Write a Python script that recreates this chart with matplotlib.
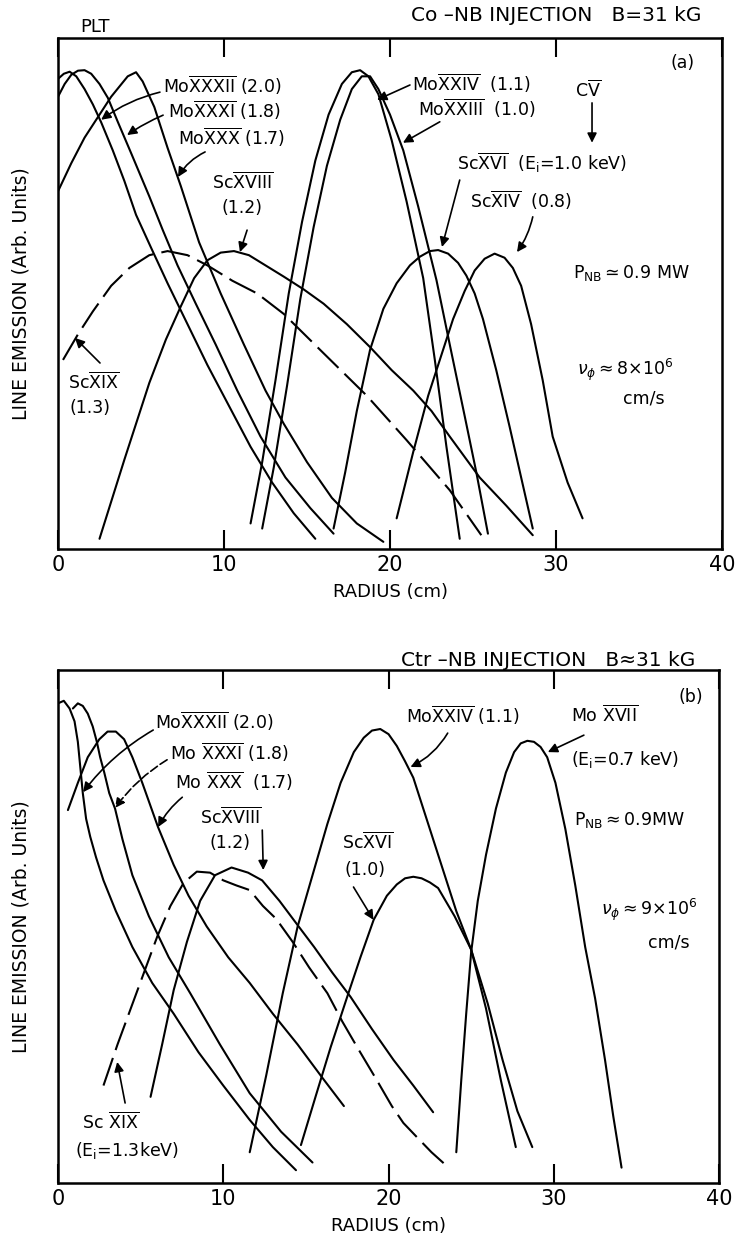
import matplotlib
matplotlib.use('Agg')
import matplotlib.pyplot as plt

# ---- panel (a): Co-NB injection, radius (cm) vs line emission (arb. units)
a_mo32_r = [0.0, 0.35, 0.7, 1.1, 1.6, 2.1, 2.6, 3.3, 4.0, 4.7, 5.6, 6.6, 7.8, 9.0, 10.3, 11.6, 12.9, 14.2, 15.5]
a_mo32_v = [0.92, 0.93, 0.934, 0.925, 0.9, 0.87, 0.835, 0.78, 0.72, 0.654, 0.59, 0.52, 0.44, 0.36, 0.28, 0.2, 0.13, 0.07, 0.02]
a_mo31_r = [0.0, 0.4, 0.8, 1.2, 1.6, 2.0, 2.5, 3.0, 3.6, 4.4, 5.5, 6.3, 7.2, 8.3, 9.5, 10.8, 12.2, 13.7, 15.2, 16.6]
a_mo31_v = [0.885, 0.91, 0.928, 0.936, 0.937, 0.93, 0.91, 0.883, 0.836, 0.775, 0.69, 0.625, 0.555, 0.48, 0.4, 0.31, 0.22, 0.14, 0.08, 0.03]
a_mo30_r = [0.0, 0.8, 1.6, 2.5, 3.2, 3.7, 4.2, 4.7, 5.1, 5.8, 6.6, 7.4, 8.5, 9.8, 11.2, 12.5, 13.6, 15.0, 16.5, 18.0, 19.6]
a_mo30_v = [0.70, 0.755, 0.805, 0.85, 0.885, 0.905, 0.925, 0.933, 0.915, 0.865, 0.785, 0.71, 0.6, 0.5, 0.4, 0.31, 0.245, 0.17, 0.1, 0.05, 0.014]
a_sc19_r = [0.3, 1.2, 2.1, 3.2, 4.3, 5.5, 6.6, 7.8, 9.0, 10.5, 12.0, 13.6, 16.0, 18.6, 21.0, 23.6, 25.5]
a_sc19_v = [0.37, 0.42, 0.465, 0.515, 0.55, 0.575, 0.583, 0.575, 0.555, 0.525, 0.5, 0.46, 0.383, 0.3, 0.213, 0.115, 0.027]
a_sc18_r = [2.5, 4.0, 5.5, 6.5, 7.4, 8.2, 9.0, 9.8, 10.6, 11.5, 12.5, 13.6, 14.8, 16.0, 17.4, 18.8, 20.1, 21.4, 22.5, 23.6, 25.4, 27.0, 28.6]
a_sc18_v = [0.02, 0.175, 0.325, 0.41, 0.475, 0.53, 0.565, 0.58, 0.583, 0.575, 0.555, 0.533, 0.508, 0.48, 0.44, 0.395, 0.35, 0.31, 0.27, 0.22, 0.14, 0.085, 0.027]
a_mo24_r = [11.6, 12.3, 13.1, 13.9, 14.7, 15.5, 16.3, 17.1, 17.7, 18.2, 18.7, 19.3, 20.1, 21.0, 22.0, 22.7, 23.4, 24.2]
a_mo24_v = [0.05, 0.17, 0.33, 0.5, 0.64, 0.76, 0.85, 0.91, 0.933, 0.937, 0.925, 0.89, 0.8, 0.68, 0.53, 0.37, 0.2, 0.02]
a_mo23_r = [12.3, 13.0, 13.8, 14.6, 15.4, 16.2, 17.0, 17.7, 18.3, 18.8, 19.3, 20.0, 20.8, 21.7, 22.8, 23.6, 24.5, 25.2, 25.9]
a_mo23_v = [0.04, 0.16, 0.32, 0.49, 0.63, 0.75, 0.84, 0.9, 0.925, 0.925, 0.9, 0.85, 0.78, 0.67, 0.526, 0.4, 0.26, 0.15, 0.03]
a_sc16_r = [16.6, 17.3, 18.0, 18.8, 19.6, 20.4, 21.2, 21.8, 22.4, 22.9, 23.5, 24.1, 24.6, 25.1, 25.6, 26.4, 27.2, 27.9, 28.6]
a_sc16_v = [0.04, 0.15, 0.27, 0.39, 0.47, 0.52, 0.555, 0.572, 0.583, 0.585, 0.578, 0.56, 0.535, 0.5, 0.45, 0.35, 0.24, 0.14, 0.04]
a_sc14_r = [20.4, 21.4, 22.3, 23.0, 23.8, 24.5, 25.1, 25.7, 26.3, 26.9, 27.4, 27.9, 28.5, 29.2, 29.8, 30.7, 31.6]
a_sc14_v = [0.06, 0.19, 0.3, 0.37, 0.45, 0.505, 0.545, 0.568, 0.578, 0.57, 0.55, 0.515, 0.44, 0.33, 0.22, 0.13, 0.06]

# ---- panel (b): Ctr-NB injection
b_mo32_r = [0.0, 0.35, 0.7, 1.0, 1.2, 1.35, 1.5, 1.7, 1.95, 2.3, 2.75, 3.5, 4.5, 5.7, 7.0, 8.5, 10.0, 11.6, 13.0, 14.4]
b_mo32_v = [0.935, 0.94, 0.925, 0.9, 0.86, 0.81, 0.76, 0.71, 0.675, 0.635, 0.59, 0.53, 0.46, 0.39, 0.33, 0.255, 0.19, 0.123, 0.07, 0.025]
b_mo31_r = [0.9, 1.2, 1.5, 1.8, 2.1, 2.35, 2.55, 2.8, 3.1, 3.45, 3.9, 4.5, 5.5, 6.7, 8.0, 9.8, 11.6, 13.5, 15.4]
b_mo31_v = [0.925, 0.935, 0.93, 0.915, 0.89, 0.86, 0.83, 0.8, 0.76, 0.73, 0.67, 0.6, 0.52, 0.44, 0.37, 0.27, 0.175, 0.1, 0.04]
b_mo30_r = [0.6, 1.2, 1.8, 2.5, 3.0, 3.5, 4.0, 4.5, 5.1, 6.05, 7.0, 7.9, 9.0, 10.3, 11.6, 13.0, 14.5, 16.0, 17.3]
b_mo30_v = [0.727, 0.78, 0.83, 0.865, 0.88, 0.88, 0.865, 0.83, 0.78, 0.694, 0.62, 0.56, 0.5, 0.44, 0.39, 0.33, 0.27, 0.205, 0.15]
b_sc19_r = [2.75, 3.6, 4.4, 5.2, 6.0, 6.8, 7.6, 8.4, 9.2, 10.0, 10.8, 11.6, 12.4, 13.2, 14.2, 15.2, 16.3, 17.2, 18.1, 19.3, 20.2, 20.9, 21.7, 22.6, 23.6]
b_sc19_v = [0.19, 0.27, 0.34, 0.41, 0.48, 0.54, 0.585, 0.607, 0.605, 0.59, 0.58, 0.571, 0.54, 0.515, 0.47, 0.42, 0.37, 0.315, 0.265, 0.2, 0.15, 0.117, 0.09, 0.06, 0.031]
b_sc18_r = [5.6, 6.3, 7.0, 7.8, 8.6, 9.5, 10.5, 11.5, 12.35, 13.4, 14.4, 15.5, 16.6, 17.7, 19.0, 20.3, 21.5, 22.7]
b_sc18_v = [0.168, 0.27, 0.376, 0.47, 0.55, 0.6, 0.615, 0.605, 0.59, 0.55, 0.507, 0.46, 0.41, 0.363, 0.3, 0.24, 0.19, 0.138]
b_mo24_r = [11.6, 12.6, 13.6, 14.5, 15.4, 16.3, 17.1, 17.9, 18.5, 19.0, 19.5, 20.0, 20.5, 21.0, 21.5, 22.2, 23.2, 24.1, 25.0, 25.9, 26.8, 27.7]
b_mo24_v = [0.06, 0.21, 0.37, 0.5, 0.6, 0.7, 0.78, 0.84, 0.868, 0.882, 0.885, 0.875, 0.852, 0.822, 0.79, 0.72, 0.62, 0.53, 0.455, 0.34, 0.2, 0.07]
b_sc16_r = [14.7, 15.6, 16.5, 17.5, 18.3, 19.1, 19.9, 20.5, 21.0, 21.5, 22.0, 22.5, 23.0, 24.0, 25.0, 26.0, 26.9, 27.8, 28.7]
b_sc16_v = [0.074, 0.17, 0.265, 0.363, 0.44, 0.513, 0.56, 0.582, 0.594, 0.597, 0.594, 0.586, 0.575, 0.52, 0.455, 0.35, 0.24, 0.14, 0.07]
b_mo17_r = [24.1, 24.4, 24.7, 25.0, 25.4, 25.9, 26.5, 27.1, 27.6, 28.0, 28.4, 28.8, 29.2, 29.6, 30.1, 30.7, 31.3, 31.9, 32.5, 33.1, 33.6, 34.1]
b_mo17_v = [0.06, 0.2, 0.33, 0.45, 0.55, 0.64, 0.73, 0.8, 0.84, 0.857, 0.862, 0.86, 0.85, 0.83, 0.78, 0.69, 0.58, 0.46, 0.36, 0.24, 0.13, 0.03]

xticks = [0, 10, 20, 30, 40]

LW = 1.5
FS = 12.5
dash = (0, (14, 4))

fig = plt.figure(figsize=(7.39, 12.58), dpi=100)
ax1 = fig.add_axes([0.0785, 0.5636, 0.8985, 0.4062])
ax2 = fig.add_axes([0.0785, 0.0596, 0.8945, 0.4078])


def style(ax):
    ax.set_xlim(0, 40)
    ax.set_ylim(0, 1)
    ax.set_xticks(xticks)
    ax.set_yticks([])
    ax.tick_params(axis='x', direction='in', length=14, width=1.5, top=True,
                   labelsize=15, pad=4)
    for s in ax.spines.values():
        s.set_linewidth(1.8)
    ax.set_xlabel('RADIUS (cm)', fontsize=13, labelpad=6)
    ax.set_ylabel('LINE EMISSION (Arb. Units)', fontsize=13.5, labelpad=20)


def arrow(ax, tail, head, rad=0.0, ls='-'):
    ax.annotate('', xy=head, xytext=tail,
                arrowprops=dict(arrowstyle='-|>', color='k', lw=1.2, mutation_scale=14,
                                shrinkA=0, shrinkB=0, linestyle=ls,
                                connectionstyle='arc3,rad=%g' % rad))


def ion(ax, x, y, elem, roman, rest='', ha='left'):
    ax.text(x, y, elem + r'$\overline{\mathrm{' + roman + '}}$' + rest,
            fontsize=FS, ha=ha, va='center')


# ---------------- panel (a)
ax = ax1
style(ax)
for r, v in [(a_mo32_r, a_mo32_v), (a_mo31_r, a_mo31_v), (a_mo30_r, a_mo30_v),
             (a_sc18_r, a_sc18_v), (a_mo24_r, a_mo24_v), (a_mo23_r, a_mo23_v),
             (a_sc16_r, a_sc16_v), (a_sc14_r, a_sc14_v)]:
    ax.plot(r, v, color='k', lw=LW, solid_capstyle='round', solid_joinstyle='round')
ax.plot(a_sc19_r, a_sc19_v, color='k', lw=LW, linestyle=dash)

ion(ax, 6.33, 0.908, 'Mo', 'XXXII', ' (2.0)')
ion(ax, 6.63, 0.859, 'Mo', 'XXXI', ' (1.8)')
ion(ax, 7.23, 0.806, 'Mo', 'XXX', ' (1.7)')
ion(ax, 11.14, 0.718, 'Sc', 'XVIII', ha='center')
ax.text(11.08, 0.667, '(1.2)', fontsize=FS, ha='center', va='center')
ion(ax, 21.33, 0.912, 'Mo', 'XXIV', '  (1.1)')
ion(ax, 21.69, 0.863, 'Mo', 'XXIII', '  (1.0)')
ion(ax, 31.93, 0.898, 'C', 'V', ha='center')
ion(ax, 24.04, 0.755, 'Sc', 'XVI', r'  (E$_\mathrm{i}$=1.0 keV)')
ion(ax, 24.82, 0.683, 'Sc', 'XIV', '  (0.8)')
ion(ax, 0.6, 0.327, 'Sc', 'XIX')
ax.text(0.72, 0.276, '(1.3)', fontsize=FS, ha='left', va='center')
ax.text(31.02, 0.540, r'P$_\mathrm{NB}$$\simeq$0.9 MW', fontsize=FS, ha='left', va='center')
ax.text(31.27, 0.350, r'$\nu_\phi$$\approx$8$\times$10$^6$', fontsize=FS, ha='left', va='center')
ax.text(34.04, 0.295, 'cm/s', fontsize=FS, ha='left', va='center')
ax.text(37.65, 0.951, '(a)', fontsize=FS, ha='center', va='center')

arrow(ax, (6.14, 0.894), (2.6, 0.84), 0.1)
arrow(ax, (6.33, 0.849), (4.16, 0.81), 0.05)
arrow(ax, (8.86, 0.777), (7.23, 0.728), 0.15)
arrow(ax, (11.39, 0.624), (10.96, 0.581))
arrow(ax, (21.2, 0.908), (19.22, 0.879))
arrow(ax, (23.0, 0.836), (20.78, 0.795))
arrow(ax, (32.17, 0.873), (32.17, 0.795))
arrow(ax, (24.2, 0.722), (23.13, 0.591))
arrow(ax, (28.6, 0.65), (27.65, 0.581), -0.1)
arrow(ax, (2.53, 0.364), (1.02, 0.413))

# ---------------- panel (b)
ax = ax2
style(ax)
for r, v in [(b_mo32_r, b_mo32_v), (b_mo31_r, b_mo31_v), (b_mo30_r, b_mo30_v),
             (b_sc18_r, b_sc18_v), (b_mo24_r, b_mo24_v), (b_sc16_r, b_sc16_v),
             (b_mo17_r, b_mo17_v)]:
    ax.plot(r, v, color='k', lw=LW, solid_capstyle='round', solid_joinstyle='round')
ax.plot(b_sc19_r, b_sc19_v, color='k', lw=LW, linestyle=dash)

ion(ax, 5.88, 0.899, 'Mo', 'XXXII', ' (2.0)')
ion(ax, 6.79, 0.840, 'Mo ', 'XXXI', ' (1.8)')
ion(ax, 7.09, 0.782, 'Mo ', 'XXX', '  (1.7)')
ion(ax, 10.48, 0.713, 'Sc', 'XVIII', ha='center')
ax.text(10.42, 0.663, '(1.2)', fontsize=FS, ha='center', va='center')
ion(ax, 21.03, 0.912, 'Mo', 'XXIV', ' (1.1)')
ion(ax, 31.03, 0.912, 'Mo ', 'XVII')
ax.text(31.03, 0.825, r'(E$_\mathrm{i}$=0.7 keV)', fontsize=FS, ha='left', va='center')
ax.text(31.21, 0.708, r'P$_\mathrm{NB}$$\approx$0.9MW', fontsize=FS, ha='left', va='center')
ax.text(32.85, 0.532, r'$\nu_\phi$$\approx$9$\times$10$^6$', fontsize=FS, ha='left', va='center')
ax.text(35.7, 0.468, 'cm/s', fontsize=FS, ha='left', va='center')
ion(ax, 18.73, 0.665, 'Sc', 'XVI', ha='center')
ax.text(18.6, 0.610, '(1.0)', fontsize=FS, ha='center', va='center')
ion(ax, 1.45, 0.119, 'Sc ', 'XIX')
ax.text(1.03, 0.064, r'(E$_\mathrm{i}$=1.3keV)', fontsize=FS, ha='left', va='center')
ax.text(38.3, 0.947, '(b)', fontsize=FS, ha='center', va='center')

arrow(ax, (5.76, 0.883), (1.52, 0.762), 0.1)
arrow(ax, (6.6, 0.825), (3.45, 0.731), 0.1, ls=(0, (5, 2)))
arrow(ax, (7.52, 0.752), (6.06, 0.694), 0.1)
arrow(ax, (12.36, 0.688), (12.42, 0.61))
arrow(ax, (23.58, 0.877), (21.33, 0.811), -0.15)
arrow(ax, (31.82, 0.873), (29.64, 0.84))
arrow(ax, (17.88, 0.577), (19.09, 0.513))
arrow(ax, (4.06, 0.156), (3.58, 0.236))

# headers outside the axes
fig.text(0.1286, 0.9785, 'PLT', fontsize=13, ha='center', va='center')
fig.text(0.7524, 0.988, 'Co \u2013NB INJECTION   B=31 kG', fontsize=14.5, ha='center', va='center')
fig.text(0.7415, 0.4753, 'Ctr \u2013NB INJECTION   B\u224831 kG', fontsize=14.5, ha='center', va='center')

fig.savefig('out.png', dpi=100)
